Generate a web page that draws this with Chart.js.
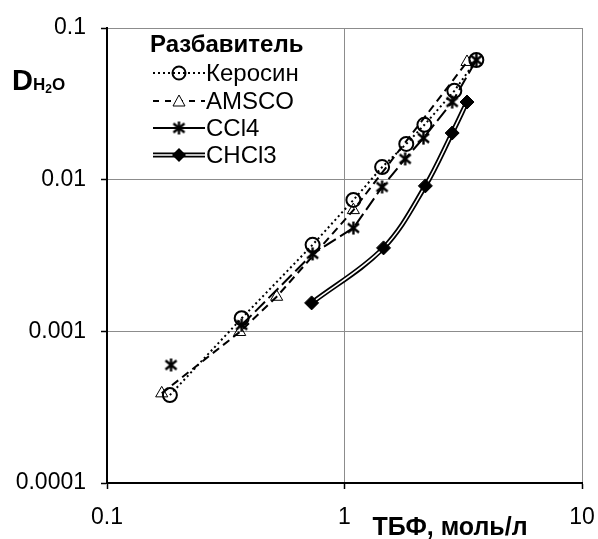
<!DOCTYPE html>
<html>
<head>
<meta charset="utf-8">
<script src="https://cdn.jsdelivr.net/npm/chart.js@4/dist/chart.umd.min.js"></script>
<style>
  html, body { margin: 0; padding: 0; background: #fff; }
  #wrap { width: 598px; height: 539px; position: relative; }
</style>
</head>
<body>
<div id="wrap"><canvas id="c" width="598" height="539"></canvas></div>
<script>
// Distribution ratio of water vs. TBP concentration for four diluents
const seriesNames = ['Керосин', 'AMSCO', 'CCl4', 'CHCl3'];
const legendTitle = 'Разбавитель';
const xTitle = 'ТБФ, моль/л';

const keroseneX = [0.184, 0.369, 0.734, 1.09, 1.44, 1.82, 2.17, 2.90, 3.59];
const keroseneY = [0.00038, 0.00122, 0.00372, 0.00735, 0.0121, 0.0172, 0.0230, 0.0385, 0.0615];

const amscoX = [0.170, 0.362, 0.518, 1.09, 3.28];
const amscoY = [0.00039, 0.00099, 0.00169, 0.0063, 0.0597];

const ccl4X = [0.186, 0.369, 0.734, 1.09, 1.44, 1.80, 2.15, 2.84, 3.59];
const ccl4Y = [0.0006, 0.0011, 0.00324, 0.0048, 0.00895, 0.0137, 0.0188, 0.0325, 0.0615];

const chcl3X = [0.727, 1.46, 2.19, 2.84, 3.28];
const chcl3Y = [0.00154, 0.00355, 0.0091, 0.0203, 0.0325];

const xTicks = [0.1, 1, 10];
const yTicks = [0.0001, 0.001, 0.01, 0.1];

const FONT = "'Liberation Sans', Arial, sans-serif";

function pts(xs, ys) { return xs.map((x, i) => ({ x: x, y: ys[i] })); }

// asterisk marker: an X crossed by a vertical stroke
function makeStar(size) {
  const c = document.createElement('canvas');
  c.width = size; c.height = size;
  const g = c.getContext('2d');
  const m = size / 2, r = size / 2 - 1;
  g.strokeStyle = '#000';
  g.lineWidth = 2.4;
  g.beginPath();
  g.moveTo(m - r * 0.85, m - r * 0.7); g.lineTo(m + r * 0.85, m + r * 0.7);
  g.moveTo(m + r * 0.85, m - r * 0.7); g.lineTo(m - r * 0.85, m + r * 0.7);
  g.moveTo(m, m - r); g.lineTo(m, m + r);
  g.stroke();
  return c;
}
const starImg = makeStar(15);

const datasets = [
  {
    label: seriesNames[0], data: pts(keroseneX, keroseneY), order: 5,
    borderColor: '#000', borderWidth: 2, borderDash: [2, 3],
    pointStyle: 'circle', pointRadius: 7, pointBorderWidth: 2,
    pointBorderColor: '#000', pointBackgroundColor: 'rgba(0,0,0,0)'
  },
  {
    label: seriesNames[1], data: pts(amscoX, amscoY), order: 4,
    borderColor: '#000', borderWidth: 2, borderDash: [8, 5],
    pointStyle: 'triangle', pointRadius: 7, pointBorderWidth: 1,
    pointBorderColor: '#000', pointBackgroundColor: 'rgba(0,0,0,0)'
  },
  {
    label: seriesNames[2], data: pts(ccl4X, ccl4Y), order: 3,
    borderColor: '#000', borderWidth: 2, borderDash: [14, 5],
    pointStyle: starImg, pointRadius: 7,
    // first measurement stands apart from the curve
    segment: { borderColor: ctx => ctx.p0DataIndex === 0 ? 'rgba(0,0,0,0)' : undefined }
  },
  {
    // outer black stroke of the double line
    label: seriesNames[3] + '-outline', data: pts(chcl3X, chcl3Y), order: 2,
    borderColor: '#000', borderWidth: 5, tension: 0.35, pointRadius: 0
  },
  {
    label: seriesNames[3], data: pts(chcl3X, chcl3Y), order: 1,
    borderColor: '#fff', borderWidth: 1.5, tension: 0.35,
    pointStyle: 'rectRot', pointRadius: 7, pointBorderWidth: 1,
    pointBorderColor: '#000', pointBackgroundColor: '#000'
  }
];
datasets.forEach(d => { d.fill = false; d.showLine = true; });

function drawMarker(ctx, type, x, y) {
  ctx.save();
  ctx.setLineDash([]);
  ctx.strokeStyle = '#000';
  if (type === 'circle') {
    ctx.lineWidth = 2; ctx.beginPath(); ctx.arc(x, y, 6.5, 0, Math.PI * 2); ctx.stroke();
  } else if (type === 'triangle') {
    ctx.fillStyle = '#fff'; ctx.lineWidth = 1;
    ctx.beginPath(); ctx.moveTo(x, y - 6); ctx.lineTo(x + 6, y + 5); ctx.lineTo(x - 6, y + 5); ctx.closePath();
    ctx.fill(); ctx.stroke();
  } else if (type === 'star') {
    ctx.drawImage(starImg, x - 7.5, y - 7.5);
  } else if (type === 'diamond') {
    ctx.fillStyle = '#000';
    ctx.beginPath(); ctx.moveTo(x, y - 7); ctx.lineTo(x + 7, y); ctx.lineTo(x, y + 7); ctx.lineTo(x - 7, y); ctx.closePath();
    ctx.fill();
  }
  ctx.restore();
}

const annotations = {
  id: 'annotations',
  afterDraw(chart) {
    const ctx = chart.ctx;
    ctx.save();
    ctx.fillStyle = '#000';
    ctx.textBaseline = 'alphabetic';

    // y axis title: D with subscript H2O
    ctx.textAlign = 'left';
    ctx.font = 'bold 29px ' + FONT;
    ctx.fillText('D', 12, 90);
    ctx.font = 'bold 17px ' + FONT;
    ctx.fillText('H', 33, 90);
    let w = ctx.measureText('H').width;
    ctx.font = 'bold 12px ' + FONT;
    ctx.fillText('2', 33 + w, 93);
    let w2 = ctx.measureText('2').width;
    ctx.font = 'bold 17px ' + FONT;
    ctx.fillText('O', 33 + w + w2, 90);

    // x axis title
    ctx.font = 'bold 25px ' + FONT;
    ctx.textAlign = 'center';
    ctx.fillText(xTitle, 450, 535);

    // legend
    ctx.font = 'bold 24px ' + FONT;
    ctx.textAlign = 'left';
    ctx.fillText(legendTitle, 150, 52);
    const rows = [
      { y: 73, dash: [2, 3], marker: 'circle' },
      { y: 101, dash: [6, 6], marker: 'triangle' },
      { y: 128, dash: [], marker: 'star' },
      { y: 155, dash: [], marker: 'diamond', double: true }
    ];
    ctx.font = '24px ' + FONT;
    rows.forEach((r, i) => {
      ctx.save();
      if (r.double) {
        ctx.strokeStyle = '#000'; ctx.lineWidth = 5;
        ctx.beginPath(); ctx.moveTo(153, r.y); ctx.lineTo(205, r.y); ctx.stroke();
        ctx.strokeStyle = '#fff'; ctx.lineWidth = 1.5;
        ctx.beginPath(); ctx.moveTo(153, r.y); ctx.lineTo(205, r.y); ctx.stroke();
      } else {
        ctx.strokeStyle = '#000'; ctx.lineWidth = 2; ctx.setLineDash(r.dash);
        ctx.beginPath(); ctx.moveTo(153, r.y); ctx.lineTo(205, r.y); ctx.stroke();
      }
      ctx.restore();
      drawMarker(ctx, r.marker, 179, r.y);
      ctx.fillStyle = '#000';
      ctx.textBaseline = 'middle';
      ctx.fillText(seriesNames[i], 206, r.y + 1);
    });
    ctx.restore();
  }
};

const axisFont = { family: FONT, size: 23 };

// fixed plot frame: left 107, right 582, top 28, bottom 483
function fixX(s) { s.height = 56; s.paddingLeft = 0; s.paddingRight = 0; }
function fixY(s) { s.width = 107; s.paddingTop = 0; s.paddingBottom = 0; }

new Chart(document.getElementById('c'), {
  type: 'line',
  data: { datasets: datasets },
  options: {
    responsive: false,
    animation: false,
    events: [],
    layout: { autoPadding: false, padding: { top: 28, right: 16, left: 0, bottom: 0 } },
    plugins: { legend: { display: false }, tooltip: { enabled: false } },
    scales: {
      x: {
        type: 'logarithmic', min: 0.1, max: 10,
        afterBuildTicks: s => { s.ticks = xTicks.map(v => ({ value: v, major: true })); },
        afterFit: fixX,
        ticks: {
          font: axisFont, color: '#000', padding: 15, maxRotation: 0, autoSkip: false,
          callback: v => String(v)
        },
        grid: { color: '#8c8c8c', lineWidth: 1, tickLength: 6, tickColor: '#000', tickWidth: 1.5 },
        border: { color: '#000', width: 2 }
      },
      y: {
        type: 'logarithmic', min: 0.0001, max: 0.1,
        afterBuildTicks: s => { s.ticks = yTicks.map(v => ({ value: v, major: true })); },
        afterFit: fixY,
        ticks: {
          font: axisFont, color: '#000', padding: 15, autoSkip: false,
          callback: v => String(v)
        },
        grid: { color: '#8c8c8c', lineWidth: 1, tickLength: 6, tickColor: '#000', tickWidth: 1.5 },
        border: { color: '#000', width: 2 }
      }
    }
  },
  plugins: [annotations]
});
</script>
</body>
</html>
